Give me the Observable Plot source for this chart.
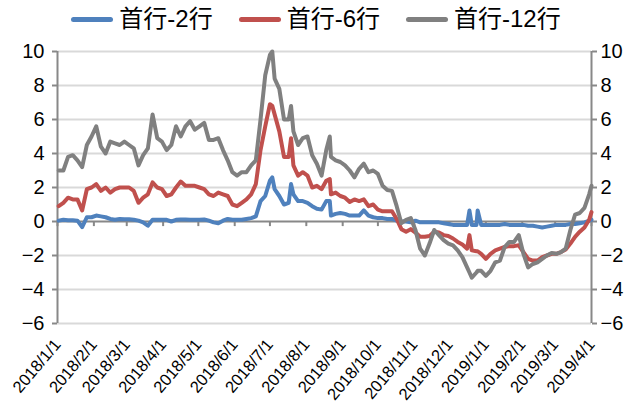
<!DOCTYPE html>
<html><head><meta charset="utf-8">
<script src="https://cdn.jsdelivr.net/npm/d3@7"></script>
<script src="https://cdn.jsdelivr.net/npm/@observablehq/plot@0.6"></script>
<style>
body{margin:0;background:#fff;font-family:"Liberation Sans","Noto Sans CJK SC",sans-serif;}
#legend{width:632px;height:34px;display:flex;justify-content:center;align-items:flex-end;gap:26px;box-sizing:border-box;}
.item{display:flex;align-items:center;font-size:24px;line-height:30px;color:#000;white-space:nowrap;}
.sw{display:inline-block;width:42px;height:5px;border-radius:3px;margin-right:6px;}
</style></head><body>
<div id="legend"></div>
<div id="chart"></div>
<script>
const seriesNames = ["首行-2行", "首行-6行", "首行-12行"];
const colors = ["#4f81bd", "#c0504d", "#808080"];
const yTicks = [-6, -4, -2, 0, 2, 4, 6, 8, 10];
const monthTicks = ["2018-01-01","2018-02-01","2018-03-01","2018-04-01","2018-05-01","2018-06-01","2018-07-01","2018-08-01","2018-09-01","2018-10-01","2018-11-01","2018-12-01","2019-01-01","2019-02-01","2019-03-01","2019-04-01"];
const dates = ["2018-01-02","2018-01-06","2018-01-10","2018-01-14","2018-01-18","2018-01-22","2018-01-26","2018-01-30",
"2018-02-03","2018-02-07","2018-02-11","2018-02-15","2018-02-19","2018-02-23","2018-02-27",
"2018-03-03","2018-03-07","2018-03-11","2018-03-15","2018-03-19","2018-03-23","2018-03-27","2018-03-31",
"2018-04-04","2018-04-08","2018-04-12","2018-04-16","2018-04-20","2018-04-24","2018-04-28",
"2018-05-02","2018-05-06","2018-05-10","2018-05-14","2018-05-18","2018-05-22","2018-05-26","2018-05-30",
"2018-06-03","2018-06-07","2018-06-11","2018-06-15","2018-06-19","2018-06-23","2018-06-27",
"2018-07-01","2018-07-03","2018-07-05","2018-07-09","2018-07-13","2018-07-17","2018-07-19","2018-07-21","2018-07-25","2018-07-29",
"2018-08-02","2018-08-06","2018-08-10","2018-08-14","2018-08-18","2018-08-21","2018-08-22","2018-08-26","2018-08-30",
"2018-09-03","2018-09-07","2018-09-11","2018-09-15","2018-09-19","2018-09-23","2018-09-27",
"2018-10-01","2018-10-05","2018-10-09","2018-10-13","2018-10-17","2018-10-21","2018-10-25","2018-10-29",
"2018-11-02","2018-11-06","2018-11-10","2018-11-14","2018-11-18","2018-11-22","2018-11-26","2018-11-30",
"2018-12-04","2018-12-08","2018-12-12","2018-12-16","2018-12-18","2018-12-20","2018-12-24","2018-12-25","2018-12-28",
"2019-01-01","2019-01-05","2019-01-09","2019-01-13","2019-01-17","2019-01-21","2019-01-25","2019-01-29",
"2019-02-02","2019-02-06","2019-02-10","2019-02-14","2019-02-18","2019-02-22","2019-02-26",
"2019-03-02","2019-03-06","2019-03-10","2019-03-14","2019-03-18","2019-03-22","2019-03-26","2019-03-30","2019-04-01"];
const spread2 = [0.05,0.1,0.08,0.08,0.05,-0.33,0.25,0.25,
0.35,0.3,0.25,0.15,0.1,0.15,0.13,
0.13,0.1,0.05,-0.05,-0.25,0.1,0.1,0.1,
0.1,0.0,0.1,0.12,0.12,0.1,0.1,
0.1,0.12,0.05,-0.05,-0.1,0.05,0.15,0.1,
0.1,0.1,0.15,0.2,0.3,1.2,1.5,
2.4,2.6,1.9,1.5,1.0,1.1,2.2,1.6,1.2,1.2,
1.1,0.9,0.75,0.7,1.2,1.2,0.35,0.45,0.5,
0.45,0.35,0.35,0.35,0.65,0.35,0.25,
0.2,0.2,0.15,0.15,0.05,0.0,0.0,-0.05,
0.05,-0.05,-0.05,-0.05,-0.05,-0.05,-0.1,-0.15,
-0.2,-0.2,-0.2,-0.2,0.65,-0.2,-0.2,0.65,-0.2,
-0.2,-0.2,-0.2,-0.2,-0.15,-0.2,-0.2,-0.2,
-0.2,-0.25,-0.25,-0.3,-0.35,-0.3,-0.25,
-0.2,-0.2,-0.2,-0.15,-0.15,-0.1,-0.05,0.05,0.1];
const spread6 = [0.9,1.1,1.4,1.3,1.3,0.65,1.9,2.0,
2.2,1.8,2.0,1.7,1.9,2.0,2.0,
2.0,1.8,1.1,1.4,1.6,2.3,2.0,1.9,
1.5,1.6,2.0,2.35,2.1,2.1,2.1,
2.0,1.9,1.6,1.5,1.7,1.6,1.5,1.0,
0.9,1.1,1.3,1.6,2.2,4.2,5.6,
6.9,6.8,6.3,5.3,3.8,3.8,4.9,3.3,2.7,2.9,
2.7,2.0,2.1,1.9,2.4,2.5,1.6,1.7,1.5,
1.4,1.15,1.3,1.2,1.3,0.9,1.0,
0.7,0.6,0.6,0.6,0.15,-0.45,-0.6,-0.45,
-0.65,-0.9,-0.9,-0.85,-0.6,-0.65,-0.8,-0.85,
-1.0,-1.2,-1.35,-1.6,-0.8,-1.7,-1.75,-1.75,-1.9,
-2.2,-1.9,-1.7,-1.6,-1.5,-1.45,-1.45,-1.4,
-1.8,-2.2,-2.3,-2.3,-2.1,-2.0,-1.9,
-1.9,-1.8,-1.65,-1.3,-0.9,-0.6,-0.35,0.1,0.55];
const spread12 = [3.0,3.0,3.8,3.9,3.6,3.2,4.5,5.0,
5.6,4.4,4.0,4.7,4.6,4.5,4.7,
4.5,4.3,3.3,3.9,4.3,6.3,4.9,4.7,
4.2,4.5,5.6,5.0,5.6,5.9,5.4,
5.6,5.8,4.8,4.8,4.9,4.2,3.6,2.9,
2.7,2.9,2.9,3.3,3.6,6.0,8.6,
9.8,10.0,8.4,7.8,6.0,6.0,6.8,5.3,4.5,4.9,
5.0,3.9,3.4,2.7,4.2,5.0,3.8,3.6,3.5,
3.3,3.0,2.6,3.1,3.4,2.9,3.0,
2.8,2.1,1.85,1.8,0.9,-0.1,0.1,0.2,
-0.5,-1.6,-2.0,-1.3,-0.5,-0.8,-1.1,-1.3,
-1.4,-1.7,-2.1,-2.7,-3.0,-3.3,-3.0,-2.9,-2.9,
-3.2,-2.9,-2.4,-2.3,-1.5,-1.2,-1.2,-0.8,
-1.9,-2.7,-2.5,-2.4,-2.2,-2.0,-1.85,
-1.9,-1.8,-1.6,-0.5,0.4,0.5,0.8,1.6,2.1];

const allValues = [spread2, spread6, spread12];
const data = [];
seriesNames.forEach((name, i) => {
  dates.forEach((d, j) => data.push({date: new Date(d), value: allValues[i][j], series: name}));
});
const months = monthTicks.map(d => new Date(d));
const fmt = d3.utcFormat("%Y/%-m/%-d");

// legend
const legend = document.getElementById("legend");
seriesNames.forEach((name, i) => {
  const item = document.createElement("div");
  item.className = "item";
  const sw = document.createElement("span");
  sw.className = "sw";
  sw.style.background = colors[i];
  item.appendChild(sw);
  item.appendChild(document.createTextNode(name));
  legend.appendChild(item);
});

const chart = Plot.plot({
  width: 632,
  height: 375,
  marginLeft: 57,
  marginRight: 41,
  marginTop: 17,
  marginBottom: 86,
  x: {type: "utc", domain: [months[0], months[months.length - 1]]},
  y: {domain: [yTicks[0], yTicks[yTicks.length - 1]]},
  color: {domain: seriesNames, range: colors},
  style: {fontFamily: "'Liberation Sans', Arial, sans-serif", background: "#fff", color: "#000"},
  marks: [
    Plot.ruleY(yTicks.filter(v => v !== 0), {stroke: "#d9d9d9", strokeWidth: 2}),
    Plot.ruleX([months[0], months[months.length - 1]], {y1: yTicks[0], y2: yTicks[yTicks.length - 1], stroke: "#888", strokeWidth: 2}),
    Plot.ruleY([0], {stroke: "#888", strokeWidth: 2}),
    Plot.ruleX(months, {y1: 0, y2: -0.3, stroke: "#888", strokeWidth: 2}),
    Plot.axisY({anchor: "left", ticks: yTicks, tickSize: 5, tickPadding: 8, stroke: "#888", strokeWidth: 2, fill: "#000", fontSize: 20, label: null}),
    Plot.axisY({anchor: "right", ticks: yTicks, tickSize: 5, tickPadding: 4, stroke: "#888", strokeWidth: 2, fill: "#000", fontSize: 20, label: null}),
    Plot.axisX({ticks: months, tickFormat: fmt, tickRotate: -50, tickSize: 0, tickPadding: 18, fill: "#000", fontSize: 16.5, label: null}),
    Plot.lineY(data, {x: "date", y: "value", stroke: "series", z: "series", strokeWidth: 4, strokeLinejoin: "round", strokeLinecap: "round"})
  ]
});
document.getElementById("chart").appendChild(chart);
</script>
</body></html>
